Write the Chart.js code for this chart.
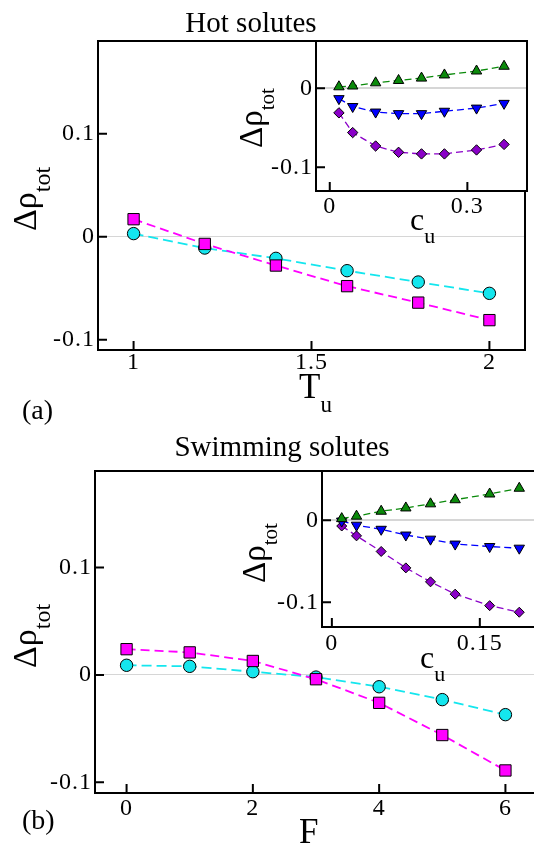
<!DOCTYPE html>
<html>
<head>
<meta charset="utf-8">
<title>Δρ_tot for hot and swimming solutes</title>
<script src="https://cdn.jsdelivr.net/npm/chart.js@4.4.1/dist/chart.umd.min.js"></script>
<style>
  html, body { margin: 0; padding: 0; background: #fff; overflow: hidden; }
  #page { position: relative; width: 534px; height: 844px; overflow: hidden; background: #fff; }
  #page canvas { position: absolute; }
  .lbl { position: absolute; font-family: "Liberation Serif", "DejaVu Serif", serif; line-height: 1; white-space: nowrap; color: #000; }
  .lbl .sub { position: relative; }
  .rot { transform-origin: 0 0; transform: rotate(-90deg); }
</style>
</head>
<body>
<div id="page">
  <canvas id="mainA" width="534" height="420" style="left:0;top:0"></canvas>
  <canvas id="insetA" width="294" height="230" style="left:240px;top:30px"></canvas>
  <canvas id="mainB" width="546" height="424" style="left:0;top:420px"></canvas>
  <canvas id="insetB" width="306" height="220" style="left:240px;top:460px"></canvas>

  <div class="lbl" style="left:251px;top:7.5px;font-size:29px;transform:translateX(-50%)">Hot solutes</div>
  <div class="lbl rot" style="left:7.5px;top:231px;font-size:34px">Δρ<span class="sub" style="font-size:24px;top:14px">tot</span></div>
  <div class="lbl" style="left:299px;top:368.7px;font-size:35px">T<span class="sub" style="font-size:23px;top:14px">u</span></div>
  <div class="lbl" style="left:22px;top:396px;font-size:28px">(a)</div>
  <div class="lbl rot" style="left:235.4px;top:148px;font-size:33px">Δρ<span class="sub" style="font-size:21px;top:12px">tot</span></div>
  <div class="lbl" style="left:410px;top:203.2px;font-size:32px">c<span class="sub" style="font-size:22px;top:13px">u</span></div>

  <div class="lbl" style="left:282px;top:432.4px;font-size:29px;transform:translateX(-50%)">Swimming solutes</div>
  <div class="lbl rot" style="left:7.5px;top:668px;font-size:34px">Δρ<span class="sub" style="font-size:24px;top:14px">tot</span></div>
  <div class="lbl" style="left:299px;top:813.7px;font-size:35px">F</div>
  <div class="lbl" style="left:22px;top:806px;font-size:28px">(b)</div>
  <div class="lbl rot" style="left:238.4px;top:583px;font-size:33px">Δρ<span class="sub" style="font-size:21px;top:12px">tot</span></div>
  <div class="lbl" style="left:420px;top:640.5px;font-size:32px">c<span class="sub" style="font-size:22px;top:13px">u</span></div>
</div>

<script>
// === Panel (a): hot solutes, main plot ===
const hotTu = [1, 1.2, 1.4, 1.6, 1.8, 2];
const hotCircles = [0.003, -0.011, -0.021, -0.033, -0.044, -0.055];
const hotSquares = [0.017, -0.007, -0.028, -0.048, -0.064, -0.081];
const hotTuTicks = [1, 1.5, 2];
const mainYTicks = [-0.1, 0, 0.1];

// === Panel (a): inset vs c_u ===
const hotC = [0.02, 0.05, 0.1, 0.15, 0.2, 0.25, 0.32, 0.38];
const hotUp = [0.002, 0.003, 0.007, 0.010, 0.013, 0.017, 0.022, 0.028];
const hotDown = [-0.013, -0.023, -0.030, -0.032, -0.032, -0.029, -0.025, -0.019];
const hotDiamonds = [-0.031, -0.056, -0.073, -0.081, -0.083, -0.083, -0.078, -0.071];
const hotCTicks = [0, 0.3];
const insetYTicks = [-0.1, 0];

// === Panel (b): swimming solutes, main plot ===
const swimF = [0, 1, 2, 3, 4, 5, 6];
const swimCircles = [0.009, 0.008, 0.003, -0.002, -0.011, -0.023, -0.037];
const swimSquares = [0.024, 0.021, 0.013, -0.004, -0.026, -0.056, -0.089];
const swimFTicks = [0, 2, 4, 6];

// === Panel (b): inset vs c_u ===
const swimC = [0.01, 0.025, 0.05, 0.075, 0.1, 0.125, 0.16, 0.19];
const swimUp = [0.002, 0.005, 0.011, 0.015, 0.020, 0.025, 0.032, 0.039];
const swimDown = [-0.001, -0.006, -0.011, -0.018, -0.023, -0.029, -0.032, -0.034];
const swimDiamonds = [-0.007, -0.019, -0.038, -0.058, -0.075, -0.090, -0.104, -0.112];
const swimCTicks = [0, 0.15];

const SERIF = '"Liberation Serif", "DejaVu Serif", serif';
const CYAN = "#14e6ee";
const MAGENTA = "#ff00ff";
const GREEN = "#0b8a0b";
const BLUE = "#0000ff";
const PURPLE = "#8a00c8";
const TICK = 9;

// frame + inward tick marks, white fill for the insets
const framePlugin = {
  id: "frame",
  beforeDraw(chart, args, opts) {
    const { ctx, chartArea: a } = chart;
    ctx.letterSpacing = "1px";
    if (!opts.fill) return;
    ctx.save();
    ctx.fillStyle = opts.fill;
    ctx.fillRect(a.left, a.top, a.right - a.left, a.bottom - a.top);
    ctx.restore();
  },
  afterDraw(chart) {
    const { ctx, chartArea: a, scales } = chart;
    const px = scales.x.ticks.map((t) => scales.x.getPixelForValue(t.value));
    const py = scales.y.ticks.map((t) => scales.y.getPixelForValue(t.value));
    ctx.save();
    ctx.strokeStyle = "#000";
    ctx.lineWidth = 2;
    ctx.beginPath();
    px.forEach((p) => {
      ctx.moveTo(p, a.bottom);
      ctx.lineTo(p, a.bottom - TICK);
    });
    py.forEach((p) => {
      ctx.moveTo(a.left, p);
      ctx.lineTo(a.left + TICK, p);
    });
    ctx.stroke();
    ctx.strokeRect(a.left, a.top, a.right - a.left, a.bottom - a.top);
    ctx.restore();
  },
};

function noPad(s) {
  s.paddingTop = s.paddingBottom = s.paddingLeft = s.paddingRight = 0;
}

function xAxis(min, max, vals, height, pad) {
  return {
    type: "linear",
    position: "bottom",
    min,
    max,
    afterBuildTicks: (s) => { s.ticks = vals.map((v) => ({ value: v })); },
    afterFit: (s) => { s.height = height; noPad(s); },
    ticks: { font: { family: SERIF, size: 24 }, color: "#000", padding: pad, maxRotation: 0, autoSkip: false, callback: (v) => String(v) },
    grid: { drawOnChartArea: false, drawTicks: false },
    border: { display: false },
  };
}

function yAxis(min, max, vals, width, zeroWidth) {
  return {
    type: "linear",
    position: "left",
    min,
    max,
    afterBuildTicks: (s) => { s.ticks = vals.map((v) => ({ value: v })); },
    afterFit: (s) => { s.width = width; noPad(s); },
    ticks: { font: { family: SERIF, size: 24 }, color: "#000", padding: 3, autoSkip: false, callback: (v) => String(v) },
    grid: {
      drawOnChartArea: true,
      drawTicks: false,
      color: (c) => (c.tick && c.tick.value === 0 ? "#d6d6d6" : "rgba(0,0,0,0)"),
      lineWidth: zeroWidth,
    },
    border: { display: false },
  };
}

function series(xs, ys, color, shape, size, dash, lineWidth, order, rotation = 0) {
  return {
    data: xs.map((x, i) => ({ x, y: ys[i] })),
    showLine: true,
    borderColor: color,
    borderWidth: lineWidth,
    borderDash: dash,
    pointStyle: shape,
    pointRadius: size,
    pointRotation: rotation,
    pointBackgroundColor: color,
    pointBorderColor: "#000",
    pointBorderWidth: 1,
    order,
  };
}

function panel(id, datasets, x, y, padTop, padRight, fill) {
  return new Chart(document.getElementById(id), {
    type: "scatter",
    data: { datasets },
    options: {
      responsive: false,
      animation: false,
      events: [],
      layout: { padding: { top: padTop, right: padRight, left: 0, bottom: 0 } },
      scales: { x, y },
      plugins: { legend: { display: false }, tooltip: { enabled: false }, frame: { fill } },
    },
    plugins: [framePlugin],
  });
}

// === Draw the four plots ===
panel(
  "mainA",
  [
    series(hotTu, hotCircles, CYAN, "circle", 6.2, [10, 5], 1.8, 1),
    series(hotTu, hotSquares, MAGENTA, "rect", 8, [9, 5], 1.8, 0),
  ],
  xAxis(0.9, 2.1, hotTuTicks, 70, -2),
  yAxis(-0.11, 0.19, mainYTicks, 98, 1),
  41, 6, null
);

panel(
  "insetA",
  [
    series(hotC, hotUp, GREEN, "triangle", 6, [7, 4], 1.3, 0),
    series(hotC, hotDown, BLUE, "triangle", 6, [7, 4], 1.3, 1, 180),
    series(hotC, hotDiamonds, PURPLE, "rectRot", 5.2, [7, 4], 1.3, 2),
  ],
  xAxis(-0.03, 0.43, hotCTicks, 69, 1),
  yAxis(-0.13, 0.06, insetYTicks, 76, 2),
  11, 6, "#fff"
);

panel(
  "mainB",
  [
    series(swimF, swimCircles, CYAN, "circle", 6.2, [10, 5], 1.8, 1),
    series(swimF, swimSquares, MAGENTA, "rect", 8, [9, 5], 1.8, 0),
  ],
  xAxis(-0.5, 6.5, swimFTicks, 51, 1),
  yAxis(-0.11, 0.19, mainYTicks, 95, 1),
  51, 4, null
);

panel(
  "insetB",
  [
    series(swimC, swimUp, GREEN, "triangle", 6, [7, 4], 1.3, 0),
    series(swimC, swimDown, BLUE, "triangle", 6, [7, 4], 1.3, 1, 180),
    series(swimC, swimDiamonds, PURPLE, "rectRot", 5, [7, 4], 1.3, 2),
  ],
  xAxis(-0.01, 0.21, swimCTicks, 53, 2),
  yAxis(-0.13, 0.06, insetYTicks, 82, 2),
  11, 5, "#fff"
);
</script>
</body>
</html>
